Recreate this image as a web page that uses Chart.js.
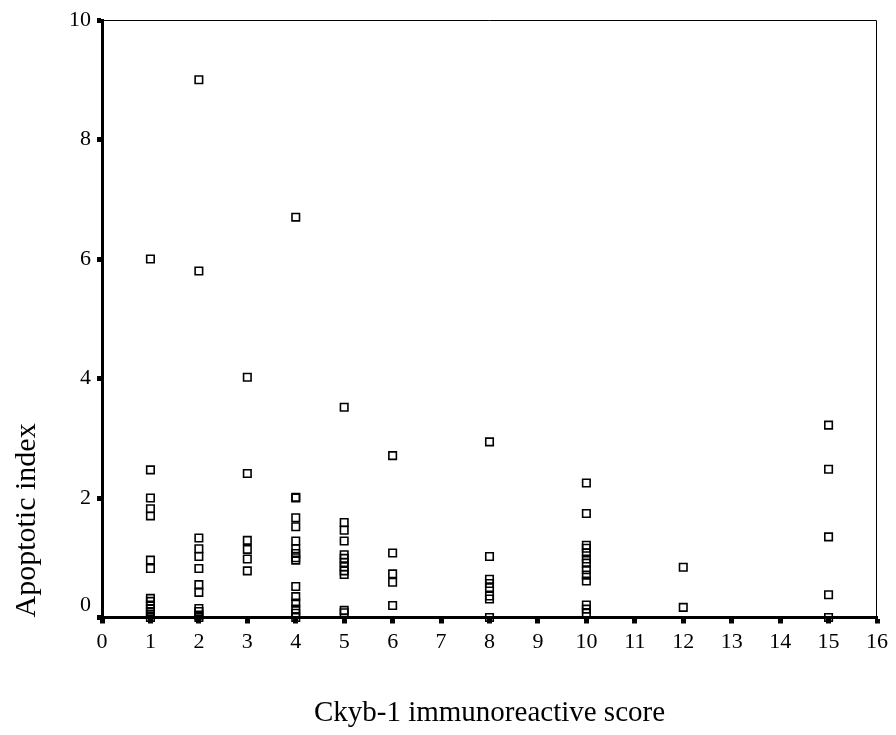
<!DOCTYPE html>
<html>
<head>
<meta charset="utf-8">
<title>Apoptotic index by Ckyb-1 score</title>
<script src="https://cdn.jsdelivr.net/npm/chart.js@4"></script>
<style>
	body { margin: 0; background: #fff; }
	canvas { display: block; }
</style>
</head>
<body>
<canvas id="chart" width="896" height="735"></canvas>
<script>
// Ckyb-1 immunoreactive scores that have cases
const scores = [1, 2, 3, 4, 5, 6, 8, 10, 12, 15]

// apoptotic index of every case, one list per score
const ai1 = [6.0, 2.47, 2.0, 1.82, 1.7, 0.96, 0.82, 0.32, 0.27, 0.21, 0.15, 0.1, 0.05, 0.0]
const ai2 = [9.0, 5.8, 1.33, 1.15, 1.02, 0.82, 0.55, 0.42, 0.15, 0.1, 0.04, 0.0]
const ai3 = [4.02, 2.41, 1.29, 1.14, 0.98, 0.78]
const ai4 = [6.7, 2.01, 2.0, 1.67, 1.52, 1.28, 1.15, 1.07, 1.0, 0.96, 0.52, 0.35, 0.24, 0.14, 0.07, 0.0]
const ai5 = [3.52, 1.59, 1.46, 1.28, 1.05, 0.99, 0.92, 0.85, 0.78, 0.72, 0.12, 0.08]
const ai6 = [2.71, 1.08, 0.73, 0.59, 0.2]
const ai8 = [2.94, 1.02, 0.64, 0.57, 0.5, 0.36, 0.31, 0.0]
const ai10 = [2.25, 1.74, 1.21, 1.16, 1.08, 0.98, 0.91, 0.8, 0.71, 0.61, 0.21, 0.14, 0.07]
const ai12 = [0.84, 0.17]
const ai15 = [3.22, 2.48, 1.35, 0.38, 0.0]
const apoptotic = [ai1, ai2, ai3, ai4, ai5, ai6, ai8, ai10, ai12, ai15]

// axis ranges and tick steps
const xLimits = [0, 16]
const xStep = 1
const yLimits = [0, 10]
const yStep = 2

const points = scores.flatMap((s, i) => apoptotic[i].map((v) => ({ x: s, y: v })))

const serif = "'Liberation Serif', 'Times New Roman', serif"

// thin lines closing the box on top and right
const frame = {
	id: "frame",
	beforeDatasetsDraw(chart) {
		const { ctx, chartArea: a } = chart
		ctx.save()
		ctx.strokeStyle = "#000"
		ctx.lineWidth = 1
		ctx.beginPath()
		ctx.moveTo(a.left, a.top + 0.5)
		ctx.lineTo(a.right - 0.5, a.top + 0.5)
		ctx.lineTo(a.right - 0.5, a.bottom)
		ctx.stroke()
		ctx.restore()
	},
}

new Chart(document.getElementById("chart"), {
	type: "scatter",
	data: {
		datasets: [
			{
				data: points,
				pointStyle: "rect",
				pointRadius: 5.3,
				pointHoverRadius: 5.3,
				pointBorderWidth: 1.6,
				pointBorderColor: "#000",
				pointBackgroundColor: "rgba(0,0,0,0)",
				clip: false,
			},
		],
	},
	options: {
		responsive: false,
		animation: false,
		events: [],
		layout: { padding: { top: 20, right: 19, left: 0, bottom: 0 } },
		plugins: {
			legend: { display: false },
			tooltip: { enabled: false },
		},
		scales: {
			x: {
				type: "linear",
				min: xLimits[0],
				max: xLimits[1],
				afterFit: (scale) => {
					scale.height = 117.5
				},
				border: { display: true, color: "#000", width: 3 },
				grid: {
					drawOnChartArea: false,
					drawTicks: true,
					tickLength: 6,
					tickWidth: 5,
					tickColor: "#000",
				},
				ticks: {
					stepSize: xStep,
					autoSkip: false,
					maxRotation: 0,
					padding: 7,
					color: "#000",
					font: { family: serif, size: 22, lineHeight: 1.1 },
				},
				title: {
					display: true,
					text: "Ckyb-1 immunoreactive score",
					color: "#000",
					font: { family: serif, size: 29, lineHeight: 1 },
					padding: { top: 0, bottom: 7.5 },
				},
			},
			y: {
				type: "linear",
				min: yLimits[0],
				max: yLimits[1],
				afterFit: (scale) => {
					scale.width = 102
				},
				border: { display: true, color: "#000", width: 3 },
				grid: {
					drawOnChartArea: false,
					drawTicks: true,
					tickLength: 5,
					tickWidth: 5,
					tickColor: "#000",
				},
				ticks: {
					stepSize: yStep,
					padding: 6,
					color: "#000",
					font: { family: serif, size: 22, lineHeight: 1.1 },
					// lift the zero label off the x axis
					callback: (v) => (v === 0 ? ["0", ""] : String(v)),
				},
				title: {
					display: true,
					text: "Apoptotic index",
					align: "start",
					color: "#000",
					font: { family: serif, size: 30, lineHeight: 1 },
					padding: { top: 12, bottom: 0 },
				},
			},
		},
	},
	plugins: [frame],
})
</script>
</body>
</html>
